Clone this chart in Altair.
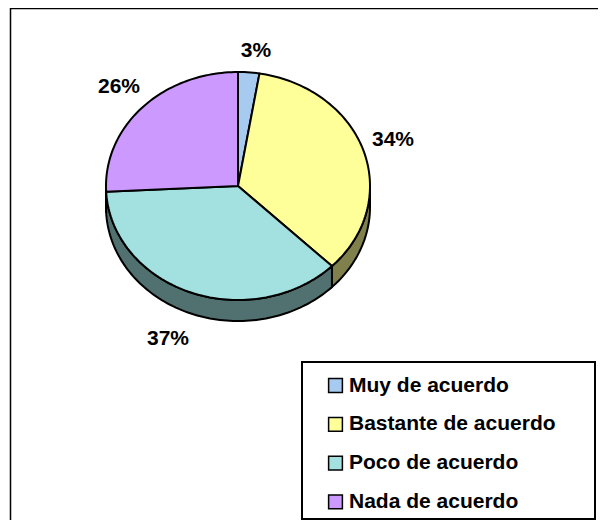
import math
import altair as alt
import pandas as pd

categories = ["Muy de acuerdo", "Bastante de acuerdo", "Poco de acuerdo", "Nada de acuerdo"]
values = [2.6, 34.8, 36.8, 25.8]
labels = ["3%", "34%", "37%", "26%"]
colors = ["#a6caf0", "#ffff99", "#a3e0e0", "#cc99ff"]
side_colors = ["#53656f", "#80804d", "#517170", "#665080"]

W, H = 606, 528
CX, CY, RX, RY, DEPTH = 238, 186, 132, 114, 21
px = lambda v: alt.value(v)


def pt(frac, dy=0):
    t = 2 * math.pi * frac
    return CX + RX * math.sin(t), CY - RY * math.cos(t) + dy


def frange(a, b, step=0.004):
    n = max(2, int((b - a) / step) + 2)
    return [a + (b - a) * i / (n - 1) for i in range(n)]


top_rows, side_rows = [], []
cum = 0
for i, (c, v) in enumerate(zip(categories, values)):
    a, b = cum / 100, (cum + v) / 100
    cum += v
    pts = [(CX, CY)] + [pt(f) for f in frange(a, b)] + [(CX, CY)]
    for k, (x, y) in enumerate(pts):
        top_rows.append(dict(cat=c, k=k, x=x, y=y))
    sa, sb = max(a, 0.25), min(b, 0.75)
    if sb > sa:
        fr = frange(sa, sb)
        wall = [pt(f) for f in fr] + [pt(f, DEPTH) for f in reversed(fr)]
        wall.append(wall[0])
        for k, (x, y) in enumerate(wall):
            side_rows.append(dict(cat=c, k=k, x=x, y=y))

label_pos = [(256, 51), (393, 140), (168, 339), (119, 87)]
label_df = pd.DataFrame({"t": labels, "x": [p[0] for p in label_pos], "y": [p[1] for p in label_pos]})

PW, PH = W - 16, H - 16
xs = alt.X("x:Q", scale=alt.Scale(domain=[8, W - 8], range=[0, PW], nice=False, zero=False), axis=None)
ys = alt.Y("y:Q", scale=alt.Scale(domain=[8, H - 8], range=[0, PH], nice=False, zero=False), axis=None)

side_fill = alt.Fill("cat:N", scale=alt.Scale(domain=categories, range=side_colors), legend=None)
top_fill = alt.Fill(
    "cat:N",
    scale=alt.Scale(domain=categories, range=colors),
    sort=categories,
    legend=alt.Legend(
        title=None, orient="none", legendX=317, legendY=367, symbolType="square", symbolSize=190,
        symbolStrokeColor="black", symbolStrokeWidth=1.5, symbolOpacity=1,
        labelFont="Liberation Sans", labelFontSize=21, labelFontWeight="bold", labelColor="black",
        rowPadding=16.8, labelOffset=3, labelLimit=300, values=categories, padding=0,
    ),
)

frame = alt.Chart(pd.DataFrame({"a": [0]})).mark_rect(fill="white", stroke="black", strokeWidth=1.5).encode(
    x=px(2.5), x2=px(640), y=px(0.5), y2=px(640)
)
side = alt.Chart(pd.DataFrame(side_rows)).mark_line(stroke="black", strokeWidth=2, filled=False).encode(
    x=xs, y=ys, order="k:Q", detail="cat:N", fill=side_fill
)
top = alt.Chart(pd.DataFrame(top_rows)).mark_line(stroke="black", strokeWidth=2, filled=False).encode(
    x=xs, y=ys, order="k:Q", detail="cat:N", fill=top_fill
)
text = alt.Chart(label_df).mark_text(font="Liberation Sans", fontSize=21, fontWeight="bold", color="black").encode(
    x=xs, y=ys, text="t:N"
)
legend_box = alt.Chart(pd.DataFrame({"a": [0]})).mark_rect(fill="transparent", stroke="black", strokeWidth=2).encode(
    x=px(294), x2=px(587), y=px(354), y2=px(511)
)

chart = alt.layer(frame, side, top, text, legend_box).resolve_scale(fill="independent").properties(
    width=PW, height=PH, padding=0, background="white",
    autosize=alt.AutoSizeParams(type="none"),
).configure_view(stroke=None)

chart.save("out.html", embed_options={"renderer": "svg", "actions": False})
